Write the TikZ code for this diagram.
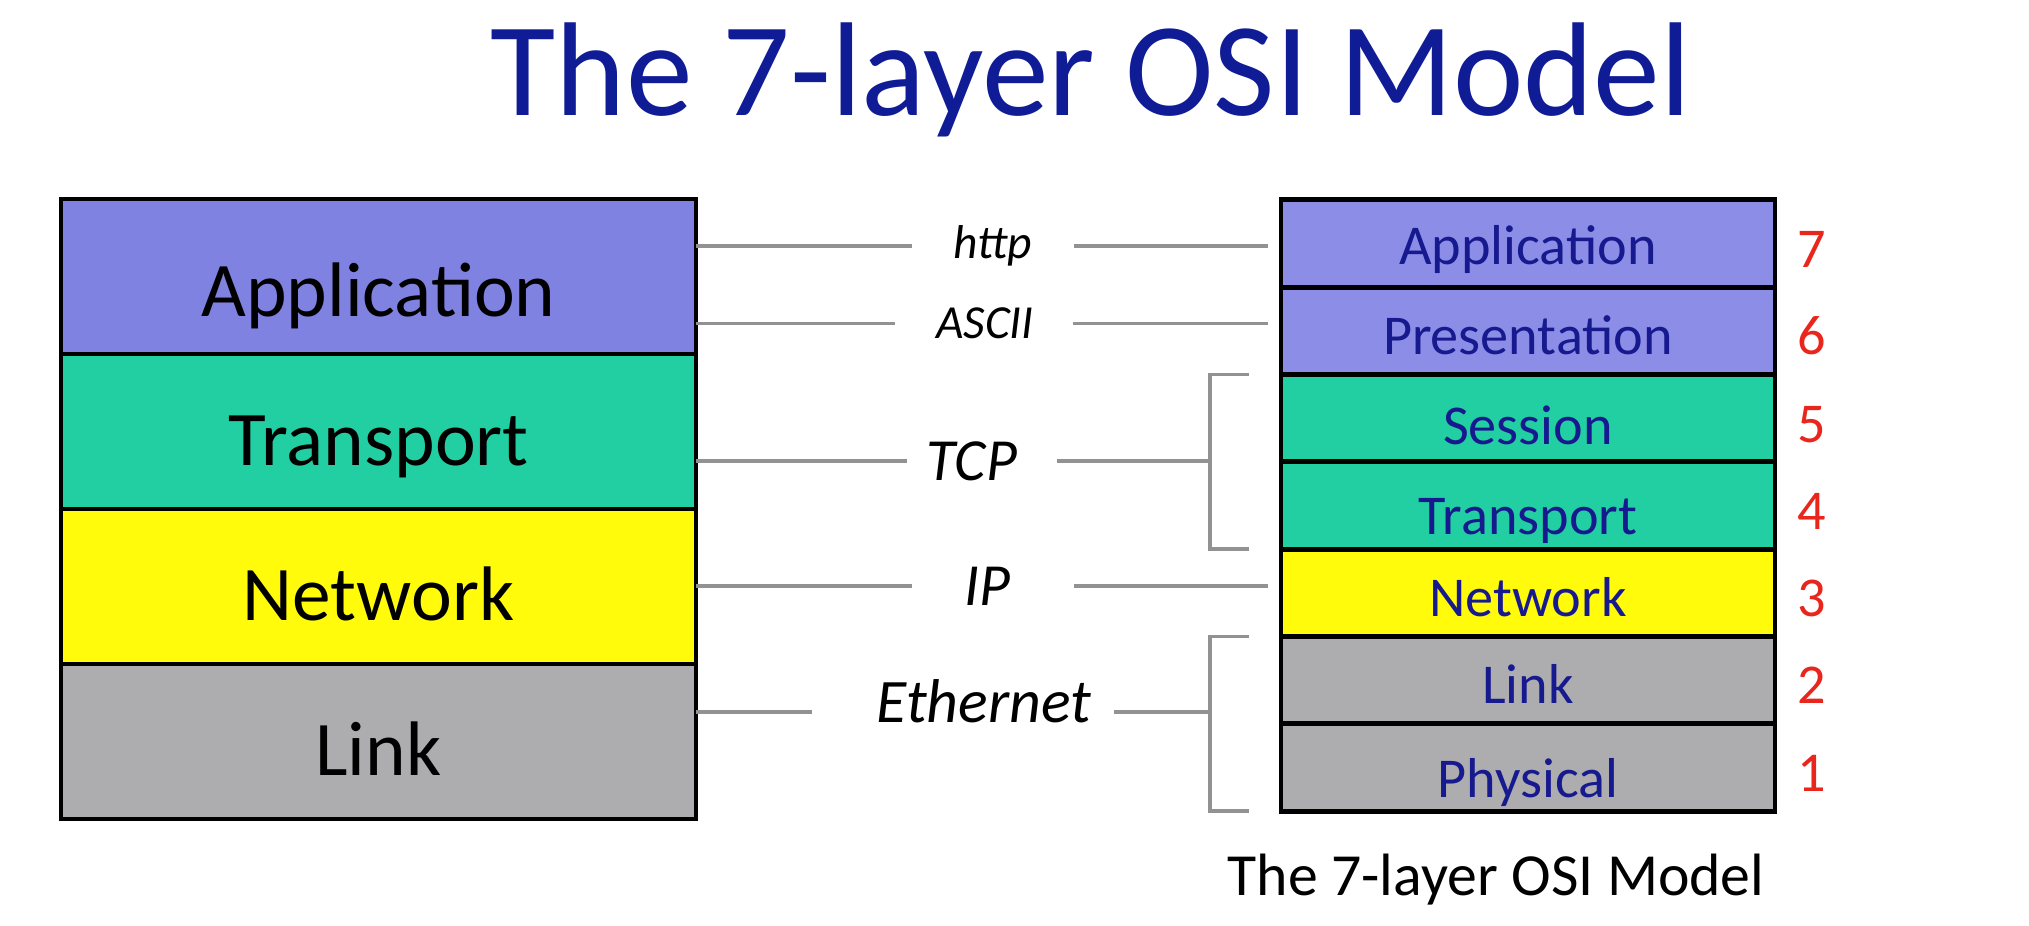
\documentclass[tikz,border=0pt]{standalone}
\usepackage{fontspec}
\setmainfont{Carlito}
\usetikzlibrary{positioning, calc}
\definecolor{appblue}{HTML}{7F82E0}
\definecolor{appblue2}{HTML}{8C8DE6}
\definecolor{tealgreen}{HTML}{22CFA2}
\definecolor{netyellow}{HTML}{FFFB0A}
\definecolor{linkgray}{HTML}{ADACAE}
\definecolor{navy}{HTML}{17198F}
\definecolor{titleblue}{HTML}{101C96}
\definecolor{numred}{HTML}{E8261C}
\definecolor{wiregray}{HTML}{929292}
\tikzset{
  titleText/.style = {text=titleblue, font=\fontsize{38}{44}\selectfont},
  bigLayer/.style = {rectangle, draw=black, line width=1.4pt, outer sep=0pt,
    minimum width=63.5mm, minimum height=15.5mm, text height=19.5pt,
    text depth=0pt, font=\fontsize{22}{26}\selectfont},
  osiLayer/.style = {rectangle, draw=black, line width=1.4pt, outer sep=0pt,
    minimum width=49.4mm, minimum height=8.73mm, text=navy, text height=13.5pt,
    text depth=0pt, font=\fontsize{16}{19}\selectfont},
  layerNum/.style = {text=numred, text height=13.6pt, text depth=0pt,
    font=\fontsize{16}{19}\selectfont},
  proto/.style = {inner sep=0pt, font=\itshape\fontsize{17}{20}\selectfont},
  protoSmall/.style = {inner sep=0pt, font=\itshape\fontsize{13.5}{16}\selectfont},
  caption/.style = {font=\fontsize{17}{20}\selectfont},
  wire/.style = {draw=wiregray, line width=1.1pt},
}
\begin{document}
\begin{tikzpicture}[x=0.1mm, y=-0.1mm]

\useasboundingbox (0,0) rectangle (2029,926);

\node[titleText] (title) at (1091,80) {The 7-layer OSI Model};

% four-layer stack
\node[bigLayer, fill=appblue, text height=23pt] (l1) at (378.5,276.5) {Application};
\node[bigLayer, fill=tealgreen, below=0pt of l1] (l2) {Transport};
\node[bigLayer, fill=netyellow, below=0pt of l2] (l3) {Network};
\node[bigLayer, fill=linkgray, below=0pt of l3] (l4) {Link};

% seven-layer stack
\node[osiLayer, fill=appblue2, text height=12pt] (r7) at (1528,243.6) {Application};
\node[osiLayer, fill=appblue2, below=0pt of r7] (r6) {Presentation};
\node[osiLayer, fill=tealgreen, below=0pt of r6, text height=15pt] (r5) {Session};
\node[osiLayer, fill=tealgreen, below=0pt of r5, text height=16.5pt] (r4) {Transport};
\node[osiLayer, fill=netyellow, below=0pt of r4] (r3) {Network};
\node[osiLayer, fill=linkgray, below=0pt of r3] (r2) {Link};
\node[osiLayer, fill=linkgray, below=0pt of r2, text height=17pt] (r1) {Physical};

\foreach \i in {1,...,7}
  \node[layerNum, right=1mm of r\i] (num\i) {\i};

\node[caption] (cap) at ($(r1.south)+(-32,69)$) {The 7-layer OSI Model};

% protocols
\node[protoSmall] (pHttp) at (993,246) {http};
\node[protoSmall] (pAscii) at (985,323.5) {ASCII};
\node[proto] (pTcp) at (972,461) {TCP};
\node[proto] (pIp) at (987,586) {IP};
\node[proto, font=\itshape\fontsize{17.6}{21}\selectfont, text height=12pt, text depth=6pt] (pEth) at (984,712) {Ethernet};

\coordinate (brTcp) at ($(r5.north west)+(-71,0)$);
\coordinate (brEth) at ($(r2.north west)+(-71,0)$);

\draw[wire, shorten >=4.1mm] (pHttp.west -| l1.east) -- (pHttp.west);
\draw[wire, shorten <=4.1mm, shorten >=1.3mm] (pHttp.east) -- (pHttp.east -| r7.west);
\draw[wire, shorten >=4.1mm] (pAscii.west -| l1.east) -- (pAscii.west);
\draw[wire, shorten <=3.8mm, shorten >=1.3mm] (pAscii.east) -- (pAscii.east -| r6.west);
\draw[wire, shorten >=1.9mm] (pTcp.west -| l2.east) -- (pTcp.west);
\draw[wire, shorten <=3.9mm] (pTcp.east) -- (pTcp.east -| brTcp);
\draw[wire] ($(r5.north west)+(-32,0)$) -| (brTcp) |- ($(r4.south west)+(-32,0)$);
\draw[wire, shorten >=5.1mm] (pIp.west -| l3.east) -- (pIp.west);
\draw[wire, shorten <=6.3mm, shorten >=1.3mm] (pIp.east) -- (pIp.east -| r3.west);
\draw[wire, shorten >=6.4mm] (pEth.west -| l4.east) -- (pEth.west);
\draw[wire, shorten <=2.2mm] (pEth.east) -- (pEth.east -| brEth);
\draw[wire] ($(r2.north west)+(-32,0)$) -| (brEth) |- ($(r1.south west)+(-32,0)$);

\end{tikzpicture}
\end{document}
